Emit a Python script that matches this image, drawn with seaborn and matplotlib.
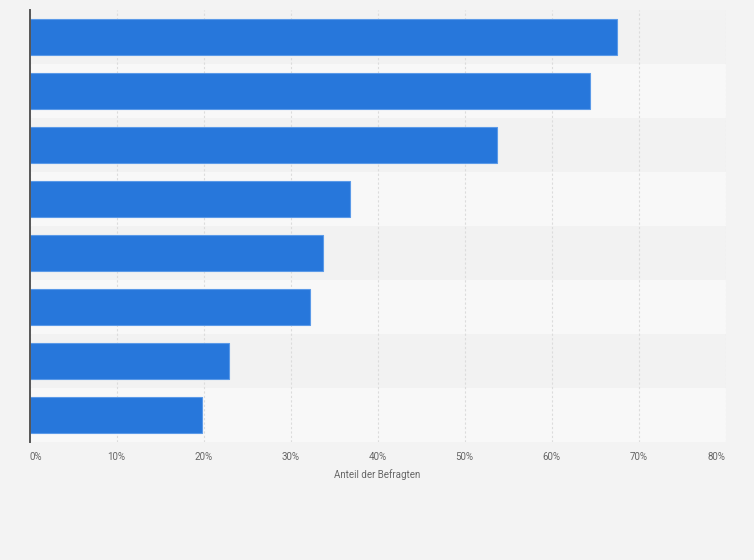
import matplotlib
matplotlib.use("Agg")
import matplotlib.pyplot as plt
import seaborn as sns
import pandas as pd
import numpy as np

categories = ["Kategorie 1", "Kategorie 2", "Kategorie 3", "Kategorie 4",
              "Kategorie 5", "Kategorie 6", "Kategorie 7", "Kategorie 8"]
values = [67.5, 64.4, 53.7, 36.8, 33.7, 32.2, 22.9, 19.8]
tick_values = [0, 10, 20, 30, 40, 50, 60, 70, 80]
tick_labels = ["0%", "10%", "20%", "30%", "40%", "50%", "60%", "70%", "80%"]
x_label = "Anteil der Befragten"

sns.set_theme(style="white")
plt.rcParams['font.family'] = ['Roboto', 'DejaVu Sans']

bg = "#f3f3f3"
fig = plt.figure(figsize=(7.54, 5.6), dpi=100, facecolor=bg)
ax = fig.add_axes([29.5/754, 1 - 442/560, (725.5-29.5)/754, (442-10)/560])
ax.set_facecolor(bg)

df = pd.DataFrame({"Kategorie": categories, "Wert": values})

# alternating row bands
for i in range(len(categories)):
    ax.axhspan(i - 0.5, i + 0.5, color="#f2f2f2" if i % 2 == 0 else "#f8f8f8",
               zorder=0, lw=0)

sns.barplot(data=df, x="Wert", y="Kategorie", orient="h", color="#2777db",
            width=0.685, saturation=1, edgecolor="#5b9ae8", linewidth=0.8,
            ax=ax, zorder=3)

ax.set_xlim(0, 80)
ax.set_ylim(len(categories) - 0.5, -0.5)
ax.set_xticks(tick_values)
ax.set_xticklabels(tick_labels)
for lbl, v in zip(ax.get_xticklabels(), tick_values):
    if v == tick_values[0]:
        lbl.set_ha("left")
    elif v == tick_values[-1]:
        lbl.set_ha("right")
ax.tick_params(axis="x", length=0, pad=7.5, labelsize=7, labelcolor="#666666")
ax.set_yticks([])
ax.set_ylabel("")
ax.set_xlabel(x_label, fontsize=7, color="#666666", labelpad=5)

ax.grid(axis="x", color="#dcdcdc", linestyle=(0, (2, 2)), linewidth=0.8, zorder=1)
ax.set_axisbelow(True)

for s in ["top", "right", "bottom"]:
    ax.spines[s].set_visible(False)
ax.spines["left"].set_color("#555555")
ax.spines["left"].set_linewidth(1.4)
ax.spines["left"].set_zorder(5)

fig.savefig("out.png", dpi=100, facecolor=bg)
